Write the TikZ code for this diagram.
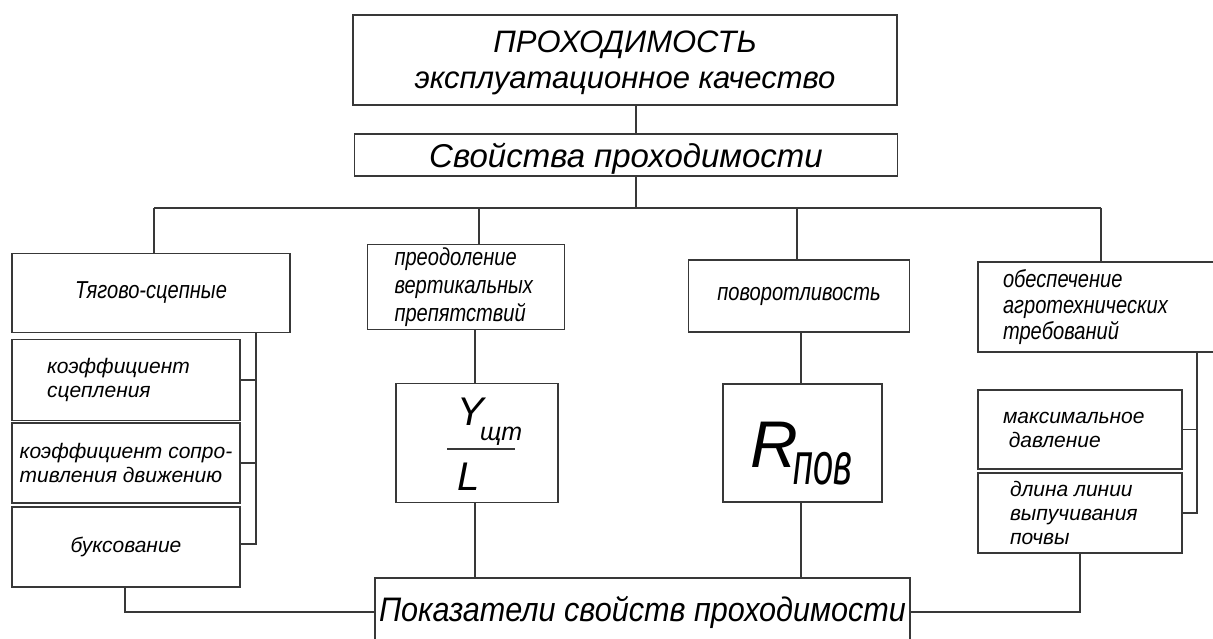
\documentclass[tikz,border=0pt]{standalone}
\usepackage{fontspec}
\usepackage{graphicx}
\setmainfont{Liberation Sans}
% narrow drafting-style lettering for the property names
\newfontfamily\gost[FakeStretch=0.82]{Liberation Sans}
\newfontfamily\narrowsans[FakeStretch=0.9]{Liberation Sans}

\tikzset{
  box/.style={draw=black!78, line width=1.2pt, fill=white, inner sep=0pt},
  wire/.style={draw=black!78, line width=1.2pt},
  title/.style={font=\fontsize{31}{36}\selectfont\itshape, align=center, text depth=0pt},
  gosttext/.style={font=\gost\fontsize{24.5}{26}\selectfont\itshape, align=flush left},
  itemtext/.style={font=\fontsize{21}{24}\selectfont\itshape, align=flush left},
  bigsym/.style={inner sep=0pt, anchor=base west},
}

\begin{document}
\begin{tikzpicture}[x=1pt,y=-1pt]
\path[use as bounding box] (0,0) rectangle (1213,639);
\clip (0,0) rectangle (1213,639);
\fill[white] (0,0) rectangle (1213,639);

% header
\node[box, title, minimum width=544pt, minimum height=90pt] (top) at (625,60)
  {ПРОХОДИМОСТЬ\\эксплуатационное качество};
\node[box, minimum width=543pt, minimum height=42pt, text depth=0pt,
      font=\fontsize{33}{36}\selectfont\itshape] (props) at (626,155)
  {Свойства проходимости};

% property groups
\node[box, gosttext, minimum width=278pt, minimum height=79pt] (traction) at (151,293)
  {Тягово-сцепные};
\node[box, gosttext, font=\gost\fontsize{24.5}{28}\selectfont\itshape,
      minimum width=197pt, minimum height=85pt, text width=143pt] (vert) at (466,287)
  {преодоление\\вертикальных\\препятствий};
\node[box, gosttext, minimum width=221pt, minimum height=72pt] (turn) at (799,296)
  {поворотливость};
\node[box, gosttext, minimum width=236pt, minimum height=90pt, text width=186pt] (agro) at (1096,307)
  {обеспечение\\агротехнических\\требований};

% traction indicators
\node[box, itemtext, minimum width=228pt, minimum height=81pt, text width=158pt] (k1) at (126,380)
  {коэффициент\\сцепления};
\node[box, font=\fontsize{21}{24}\selectfont\itshape, align=left,
      minimum width=228pt, minimum height=80pt] (k2) at (126,463)
  {коэффициент сопро-\\тивления движению};
\node[box, itemtext, minimum width=228pt, minimum height=80pt] (k3) at (126,547)
  {буксование};

% obstacle indicator
\node[box, minimum width=162pt, minimum height=119pt] (ylbox) at (477,443) {};
\node[bigsym, font=\fontsize{40}{40}\selectfont\itshape] (ysym) at (457,425) {Y};
\node[bigsym, font=\fontsize{25}{25}\selectfont\itshape] (ysub) at (480,440) {щт};
\node[bigsym, font=\fontsize{40}{40}\selectfont\itshape] (lsym) at (457,490) {L};
\draw[wire] (447,449) -- (515,449);

% turning indicator
\node[box, minimum width=159pt, minimum height=118pt] (rbox) at (802.5,443) {};
\node[bigsym, font=\fontsize{66}{66}\selectfont\itshape] (rsym) at (750,467) {R};
\node[bigsym, font=\fontsize{60}{60}\selectfont\itshape] (rsub) at (793,484)
  {\scalebox{0.6}[1]{пов}};

% agrotechnical indicators
\node[box, itemtext, minimum width=204pt, minimum height=79pt, text width=154pt] (maxp) at (1080,429.5)
  {максимальное\\\ давление};
\node[box, itemtext, minimum width=204pt, minimum height=80pt, text width=140pt] (soil) at (1080,513)
  {длина линии\\выпучивания\\почвы};

% summary
\node[box, minimum width=535pt, minimum height=68pt,
      font=\narrowsans\fontsize{34}{36}\selectfont\itshape] (indic) at (642.5,612)
  {Показатели свойств проходимости};

% connectors
\coordinate (tx) at (636,0);
\draw[wire] (top.south -| tx) -- (props.north -| tx);

\coordinate (bus) at (636,208);
\coordinate (b1) at (154,208);
\coordinate (b2) at (479,208);
\coordinate (b3) at (797,208);
\coordinate (b4) at (1101,208);
\draw[wire] (props.south -| bus) -- (bus);
\draw[wire] (b1) -- (b4);
\draw[wire] (b1) -- (b1 |- traction.north);
\draw[wire] (b2) -- (b2 |- vert.north);
\draw[wire] (b3) -- (b3 |- turn.north);
\draw[wire] (b4) -- (b4 |- agro.north);

\coordinate (lr) at (256,0);
\coordinate (k3t) at (256,544);
\draw[wire] (traction.south -| lr) -- (k3t) -- (k3t -| k3.east);
\draw[wire] (k1.east) -- (k1.east -| lr);
\draw[wire] (k2.east) -- (k2.east -| lr);
\coordinate (lb) at (125,612);
\draw[wire] (k3.south -| lb) -- (lb) -- (indic.west);

\coordinate (vx) at (475,0);
\draw[wire] (vert.south -| vx) -- (ylbox.north -| vx);
\draw[wire] (ylbox.south -| vx) -- (indic.north -| vx);

\coordinate (rx) at (801,0);
\draw[wire] (turn.south -| rx) -- (rbox.north -| rx);
\draw[wire] (rbox.south -| rx) -- (indic.north -| rx);

\coordinate (rr) at (1197,0);
\draw[wire] (agro.south -| rr) -- (soil.east -| rr) -- (soil.east);
\draw[wire] (maxp.east) -- (maxp.east -| rr);
\coordinate (rb) at (1080,612);
\draw[wire] (soil.south -| rb) -- (rb) -- (indic.east);
\end{tikzpicture}
\end{document}
